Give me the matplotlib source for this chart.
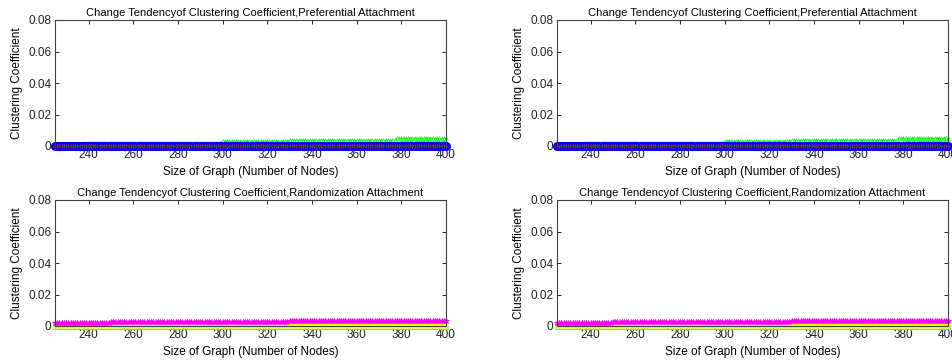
import numpy as np
import matplotlib.pyplot as plt

plt.rcParams['font.family'] = ['Liberation Sans Narrow', 'Liberation Sans', 'DejaVu Sans']

# taille du graphe (nombre de noeuds)
nodes = np.arange(225, 401)

# valeurs lues par paliers (debut du palier -> valeur)
pa_green_hi_steps = [225, 238, 270, 300, 330, 378]
pa_green_hi_vals = [0.0010, 0.0017, 0.0022, 0.0030, 0.0036, 0.0048]
pa_green_lo_steps = [225, 260, 300, 340, 380]
pa_green_lo_vals = [0.0006, 0.0010, 0.0014, 0.0018, 0.0026]
pa_red_vals = [0.0001, 0.0002, 0.0003]
pa_red_steps = [225, 290, 360]
pa_blue_vals = [0.0, 0.0]
pa_blue_steps = [225, 300]

ra_mag_steps = [225, 250, 300, 330]
ra_mag_vals = [0.0020, 0.0024, 0.0028, 0.0034]
ra_yel_steps = [225, 300]
ra_yel_vals = [0.0005, 0.0007]
ra_cyan_steps = [225]
ra_cyan_vals = [-0.0006]
ra_grn_steps = [225]
ra_grn_vals = [-0.0002]


def paliers(steps, vals):
    out = np.zeros(len(nodes))
    for s, v in zip(steps, vals):
        out[nodes >= s] = v
    return out


fig = plt.figure(figsize=(9.52, 3.64), dpi=100)
lefts = [55 / 952, 557 / 952]
w = 391 / 952
bottoms = [218 / 364, 38 / 364]
h = 126 / 364

titles = ["Change Tendencyof Clustering Coefficient,Preferential Attachment",
          "Change Tendencyof Clustering Coefficient,Randomization Attachment"]

for r in range(2):
    for c in range(2):
        ax = fig.add_axes([lefts[c], bottoms[r], w, h])
        if r == 0:
            ax.plot(nodes, paliers(pa_green_hi_steps, pa_green_hi_vals), '--^', color='#00ff00',
                    ms=2.5, lw=0.7, mfc='none', mew=0.5, clip_on=False)
            ax.plot(nodes, paliers(pa_green_lo_steps, pa_green_lo_vals), '--^', color='#00ff00',
                    ms=2.5, lw=0.7, mfc='none', mew=0.5, clip_on=False)
            ax.plot(nodes, paliers(pa_blue_steps, pa_blue_vals), '-o', color='#0000ff',
                    ms=5, lw=1.5, mfc='none', mew=1.5, clip_on=False)
            ax.plot(nodes, paliers(pa_red_steps, pa_red_vals), ':+', color='#ff0000',
                    ms=3, lw=0.6, mew=0.7, clip_on=False)
        else:
            ax.plot(nodes, paliers(ra_cyan_steps, ra_cyan_vals), '-s', color='#00ffff',
                    ms=2.5, lw=0.6, mfc='none', mew=0.6, clip_on=False)
            ax.plot(nodes, paliers(ra_grn_steps, ra_grn_vals), ':.', color='#00ff00',
                    ms=2, lw=0.6, clip_on=False)
            ax.plot(nodes, paliers(ra_yel_steps, ra_yel_vals), '-x', color='#ffff00',
                    ms=4, lw=0.8, mew=1.0, clip_on=False)
            ax.plot(nodes, paliers(ra_mag_steps, ra_mag_vals), '--*', color='#ff00ff',
                    ms=4, lw=0.7, mew=0.6, clip_on=False)
        ax.set_xlim(225, 400)
        ax.set_ylim(0, 0.08)
        ax.set_xticks(range(240, 401, 20))
        ax.set_yticks([0, 0.02, 0.04, 0.06, 0.08])
        ax.set_yticklabels(['0', '0.02', '0.04', '0.06', '0.08'])
        ax.tick_params(direction='in', top=True, right=True, length=3, width=0.6,
                       labelsize=8.5, pad=2.5, colors='#000000', labelcolor='#222222')
        for sp in ax.spines.values():
            sp.set_linewidth(0.8)
            sp.set_color('#404040')
        ax.set_xlabel("Size of Graph (Number of Nodes)", fontsize=8.5, labelpad=3)
        ax.set_ylabel("Clustering Coefficient", fontsize=8.5, labelpad=4)
        ax.set_title(titles[r], fontsize=8, pad=3)

fig.savefig("out.png", dpi=100)
